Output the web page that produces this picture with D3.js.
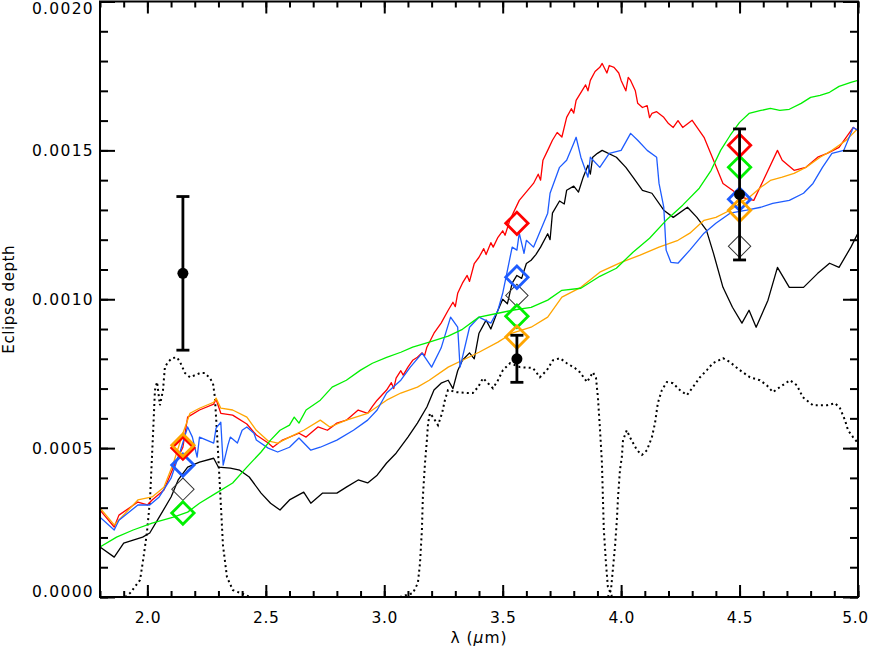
<!DOCTYPE html>
<html lang="en">
<head>
    <meta charset="utf-8">
    <title>Eclipse depth vs wavelength</title>
    <style>
        body, html { margin: 0; background: #fff; }
        svg { display: block; }
        text { font-family: "DejaVu Sans", sans-serif; fill: #000; }
    </style>
    <script src="https://d3js.org/d3.v7.min.js"></script>
</head>
<body>
    <svg width="871" height="652"></svg>

    <script>
        // wavelength in micron, depth in ppm
        const modelBlack = [[1.80,168],[1.86,134],[1.90,181],[1.94,191],[1.98,201],[2.01,215],[2.05,268],[2.10,336],[2.13,393],[2.17,436],[2.22,453],[2.28,466],[2.30,436],[2.35,433],[2.39,426],[2.43,403],[2.48,349],[2.52,315],[2.56,292],[2.60,326],[2.66,352],[2.69,315],[2.74,349],[2.80,349],[2.84,369],[2.89,393],[2.93,383],[2.97,409],[3.01,450],[3.05,483],[3.10,537],[3.14,584],[3.18,638],[3.21,695],[3.24,718],[3.27,728],[3.29,700],[3.31,760],[3.33,795],[3.36,820],[3.38,800],[3.40,886],[3.43,930],[3.45,900],[3.48,963],[3.50,1000],[3.52,985],[3.54,1054],[3.56,1080],[3.58,1070],[3.60,1120],[3.62,1131],[3.64,1150],[3.66,1175],[3.69,1220],[3.70,1200],[3.71,1289],[3.74,1330],[3.76,1320],[3.77,1366],[3.80,1380],[3.82,1360],[3.84,1410],[3.86,1450],[3.87,1420],[3.88,1477],[3.90,1490],[3.92,1500],[3.98,1477],[4.02,1443],[4.05,1410],[4.09,1366],[4.13,1356],[4.18,1299],[4.22,1275],[4.28,1309],[4.32,1275],[4.36,1232],[4.39,1154],[4.43,1040],[4.47,973],[4.51,920],[4.54,963],[4.57,906],[4.62,997],[4.66,1107],[4.71,1040],[4.77,1040],[4.83,1087],[4.88,1121],[4.92,1107],[4.97,1175],[5.00,1222]];

        const modelRed = [[1.80,292],[1.86,235],[1.88,275],[1.96,319],[2.00,309],[2.02,326],[2.07,359],[2.11,436],[2.15,503],[2.17,604],[2.22,628],[2.28,648],[2.29,664],[2.31,617],[2.36,611],[2.42,581],[2.46,544],[2.51,517],[2.53,503],[2.57,527],[2.64,550],[2.67,537],[2.72,571],[2.76,560],[2.80,584],[2.84,594],[2.89,628],[2.93,617],[2.95,640],[2.97,661],[3.01,695],[3.03,720],[3.04,700],[3.05,735],[3.07,760],[3.08,745],[3.10,772],[3.12,795],[3.14,805],[3.16,820],[3.17,810],[3.18,839],[3.21,886],[3.24,920],[3.27,963],[3.29,990],[3.30,975],[3.31,1020],[3.33,1054],[3.35,1080],[3.36,1060],[3.38,1120],[3.40,1141],[3.42,1170],[3.43,1150],[3.45,1190],[3.46,1175],[3.48,1208],[3.50,1230],[3.51,1215],[3.53,1265],[3.57,1332],[3.63,1389],[3.65,1420],[3.66,1400],[3.67,1467],[3.69,1500],[3.71,1534],[3.73,1560],[3.75,1545],[3.77,1611],[3.79,1640],[3.80,1625],[3.81,1668],[3.85,1720],[3.86,1700],[3.87,1735],[3.89,1765],[3.91,1779],[3.92,1792],[3.94,1760],[3.95,1785],[3.97,1779],[3.99,1760],[4.00,1735],[4.02,1700],[4.03,1745],[4.04,1735],[4.06,1700],[4.07,1658],[4.09,1644],[4.11,1650],[4.12,1610],[4.13,1624],[4.15,1630],[4.18,1611],[4.20,1590],[4.22,1577],[4.24,1600],[4.26,1577],[4.30,1601],[4.35,1544],[4.39,1467],[4.43,1389],[4.47,1366],[4.51,1342],[4.56,1332],[4.60,1399],[4.66,1500],[4.68,1467],[4.73,1433],[4.78,1443],[4.83,1477],[4.87,1490],[4.92,1510],[4.98,1577],[5.00,1567]];

        const modelOrange = [[1.80,299],[1.86,242],[1.96,326],[2.02,336],[2.07,369],[2.11,450],[2.15,550],[2.18,617],[2.22,634],[2.28,654],[2.29,668],[2.31,634],[2.36,628],[2.42,604],[2.46,560],[2.51,524],[2.55,517],[2.60,537],[2.66,560],[2.73,594],[2.77,571],[2.84,594],[2.93,617],[3.01,661],[3.07,685],[3.14,705],[3.19,728],[3.27,772],[3.33,795],[3.40,822],[3.48,856],[3.54,886],[3.62,906],[3.69,940],[3.75,1007],[3.83,1040],[3.91,1091],[4.00,1124],[4.08,1148],[4.16,1175],[4.24,1198],[4.29,1222],[4.35,1265],[4.40,1275],[4.46,1299],[4.50,1322],[4.54,1342],[4.59,1376],[4.63,1399],[4.68,1410],[4.73,1423],[4.78,1443],[4.84,1477],[4.89,1500],[4.95,1534],[5.00,1574]];

        const modelBlue = [[1.80,268],[1.86,225],[1.88,258],[1.96,309],[2.01,309],[2.05,336],[2.10,399],[2.14,493],[2.17,571],[2.19,537],[2.21,470],[2.22,537],[2.25,527],[2.28,517],[2.29,567],[2.31,587],[2.32,443],[2.34,510],[2.35,537],[2.38,517],[2.40,560],[2.42,571],[2.45,550],[2.46,527],[2.51,500],[2.55,487],[2.60,503],[2.64,534],[2.69,493],[2.73,503],[2.80,527],[2.87,560],[2.93,594],[2.97,628],[3.01,685],[3.07,728],[3.11,772],[3.16,819],[3.20,772],[3.24,836],[3.28,940],[3.31,906],[3.32,772],[3.33,805],[3.36,906],[3.40,940],[3.45,920],[3.48,963],[3.50,1020],[3.54,1175],[3.56,1165],[3.57,1222],[3.59,1154],[3.60,1198],[3.63,1175],[3.69,1289],[3.70,1356],[3.74,1443],[3.77,1467],[3.80,1524],[3.81,1544],[3.83,1477],[3.86,1410],[3.87,1477],[3.91,1443],[3.95,1490],[4.00,1500],[4.04,1557],[4.07,1534],[4.11,1500],[4.15,1477],[4.16,1389],[4.18,1309],[4.19,1165],[4.21,1124],[4.24,1121],[4.29,1165],[4.35,1222],[4.40,1255],[4.46,1289],[4.53,1299],[4.59,1309],[4.64,1322],[4.71,1332],[4.77,1356],[4.81,1389],[4.85,1443],[4.89,1490],[4.94,1500],[4.98,1577],[5.00,1567]];

        const modelGreen = [[1.80,168],[1.87,201],[1.94,225],[2.02,248],[2.11,268],[2.17,285],[2.22,315],[2.29,349],[2.36,383],[2.42,436],[2.48,487],[2.52,527],[2.56,560],[2.60,577],[2.62,604],[2.64,584],[2.67,628],[2.73,661],[2.78,705],[2.84,728],[2.90,762],[2.95,785],[3.01,805],[3.07,822],[3.12,839],[3.19,856],[3.27,876],[3.33,899],[3.40,940],[3.48,953],[3.54,963],[3.62,973],[3.69,997],[3.75,1030],[3.83,1037],[3.91,1077],[3.98,1104],[4.05,1158],[4.12,1205],[4.19,1265],[4.26,1316],[4.33,1373],[4.38,1433],[4.42,1500],[4.46,1550],[4.50,1594],[4.54,1624],[4.59,1634],[4.63,1641],[4.67,1634],[4.71,1638],[4.76,1658],[4.80,1678],[4.84,1685],[4.88,1695],[4.92,1715],[4.97,1728],[5.00,1735]];

        // filter transmission curves, scaled onto the depth axis
        const filterK = [[1.906,0],[1.927,13],[1.969,57],[1.982,124],[1.998,215],[2.011,326],[2.024,550],[2.032,695],[2.041,722],[2.053,644],[2.066,695],[2.074,772],[2.087,789],[2.104,802],[2.125,805],[2.138,789],[2.159,752],[2.180,738],[2.222,752],[2.243,752],[2.264,735],[2.277,718],[2.285,671],[2.294,550],[2.307,359],[2.319,175],[2.336,67],[2.361,23],[2.404,10],[2.433,0]];
        const filterCh1 = [[3.066,0],[3.121,13],[3.142,47],[3.151,114],[3.159,225],[3.163,336],[3.172,450],[3.180,527],[3.185,584],[3.193,617],[3.206,604],[3.227,577],[3.244,617],[3.256,661],[3.269,695],[3.307,688],[3.349,685],[3.374,685],[3.396,705],[3.417,735],[3.438,718],[3.459,701],[3.480,728],[3.501,762],[3.531,785],[3.573,772],[3.628,769],[3.657,738],[3.687,762],[3.712,795],[3.742,802],[3.771,785],[3.805,769],[3.826,755],[3.856,722],[3.881,755],[3.894,735],[3.902,671],[3.911,560],[3.919,450],[3.923,336],[3.927,225],[3.936,114],[3.944,34],[3.961,3]];
        const filterCh2 = [[3.944,0],[3.957,23],[3.965,91],[3.974,168],[3.982,258],[3.987,336],[3.995,426],[4.003,470],[4.008,527],[4.024,560],[4.037,537],[4.067,493],[4.088,477],[4.109,493],[4.130,537],[4.143,584],[4.155,651],[4.172,695],[4.193,722],[4.219,718],[4.248,695],[4.278,678],[4.303,705],[4.333,738],[4.362,762],[4.387,785],[4.430,802],[4.459,789],[4.501,762],[4.544,738],[4.586,728],[4.615,711],[4.641,688],[4.670,705],[4.713,728],[4.742,711],[4.767,671],[4.810,644],[4.869,644],[4.903,651],[4.924,634],[4.945,594],[4.958,560],[4.979,537],[5.000,517]];

        // band-integrated model points and observations
        const bands = [2.15, 3.56, 4.50];
        const bandBlack = [362, 1013, 1178];
        const bandGreen = [282, 943, 1443];
        const bandBlue = [443, 1074, 1336];
        const bandRed = [500, 1255, 1517];
        const bandOrange = [510, 873, 1299];
        const obsDepth = [1087, 800, 1352];
        const obsErr = [258, 79, 220];

        const xMajor = [2.0, 2.5, 3.0, 3.5, 4.0, 4.5, 5.0];
        const yMajor = [0, 500, 1000, 1500, 2000];

        const width = 871, height = 652;
        const margin = { left: 100, right: 13, top: 1.5, bottom: 55 };
        const svg = d3.select("svg");

        const x = d3.scaleLinear().domain([1.8, 5.0]).range([margin.left, width - margin.right]);
        const y = d3.scaleLinear().domain([0, 2000]).range([height - margin.bottom, margin.top]);

        svg.append("clipPath").attr("id", "plot")
            .append("rect")
            .attr("x", x(1.8)).attr("y", y(2000))
            .attr("width", x(5.0) - x(1.8)).attr("height", y(0) - y(2000));

        const line = d3.line().x(d => x(d[0])).y(d => y(d[1]));
        const plot = svg.append("g").attr("clip-path", "url(#plot)");

        [filterK, filterCh1, filterCh2].forEach(f => {
            plot.append("path").datum(f)
                .attr("d", line)
                .attr("fill", "none")
                .attr("stroke", "#000")
                .attr("stroke-width", 2)
                .attr("stroke-dasharray", "2,3.2");
        });

        const models = [
            { data: modelBlack, color: "#000000" },
            { data: modelRed, color: "#ff0000" },
            { data: modelOrange, color: "#ffa500" },
            { data: modelBlue, color: "#1e5cff" },
            { data: modelGreen, color: "#00f000" }
        ];
        models.forEach(m => {
            plot.append("path").datum(m.data)
                .attr("d", line)
                .attr("fill", "none")
                .attr("stroke", m.color)
                .attr("stroke-width", 1.3)
                .attr("stroke-linejoin", "round");
        });

        // diamonds
        const diamond = d3.symbol().type(d3.symbolSquare).size(250);
        const markerSets = [
            { vals: bandBlack, color: "#333", w: 1 },
            { vals: bandGreen, color: "#00f000", w: 2.8 },
            { vals: bandBlue, color: "#1e5cff", w: 2.8 },
            { vals: bandRed, color: "#ff0000", w: 2.8 },
            { vals: bandOrange, color: "#ffa500", w: 2.8 }
        ];
        markerSets.forEach(s => {
            svg.append("g").selectAll("path")
                .data(s.vals)
                .join("path")
                .attr("d", diamond)
                .attr("transform", (d, i) => `translate(${x(bands[i])},${y(d)}) rotate(45)`)
                .attr("fill", "none")
                .attr("stroke", s.color)
                .attr("stroke-width", s.w);
        });

        // observations with error bars
        const obs = svg.append("g");
        bands.forEach((b, i) => {
            const cx = x(b);
            obs.append("line")
                .attr("x1", cx).attr("x2", cx)
                .attr("y1", y(obsDepth[i] - obsErr[i])).attr("y2", y(obsDepth[i] + obsErr[i]))
                .attr("stroke", "#000").attr("stroke-width", 2.8);
            [obsDepth[i] - obsErr[i], obsDepth[i] + obsErr[i]].forEach(v => {
                obs.append("line")
                    .attr("x1", cx - 6.5).attr("x2", cx + 6.5)
                    .attr("y1", y(v)).attr("y2", y(v))
                    .attr("stroke", "#000").attr("stroke-width", 2.8);
            });
            obs.append("circle")
                .attr("cx", cx).attr("cy", y(obsDepth[i]))
                .attr("r", 5.5).attr("fill", "#000");
        });

        // axes: ticks point inward on all four sides
        const xMinor = d3.range(18, 51).map(v => v / 10);
        const yMinor = d3.range(0, 21).map(v => v * 100);
        const axes = svg.append("g");

        function addAxis(axis, tx, ty) {
            const g = axes.append("g").attr("transform", `translate(${tx},${ty})`).call(axis);
            g.select(".domain").remove();
            g.selectAll("line").attr("stroke-width", 2);
            return g;
        }

        addAxis(d3.axisBottom(x).tickValues(xMinor).tickSize(-6).tickFormat(""), 0, y(0));
        addAxis(d3.axisTop(x).tickValues(xMinor).tickSize(-6).tickFormat(""), 0, y(2000));
        addAxis(d3.axisTop(x).tickValues(xMajor).tickSize(-12).tickFormat(""), 0, y(2000));
        const xg = addAxis(d3.axisBottom(x).tickValues(xMajor).tickSize(-12).tickPadding(15)
            .tickFormat(d3.format(".1f")), 0, y(0));
        xg.selectAll("text").attr("font-size", 15.5).attr("letter-spacing", 0.6)
            .attr("font-family", "DejaVu Sans")
            .attr("dx", d => d === 5 ? -3 : 0);

        addAxis(d3.axisLeft(y).tickValues(yMinor).tickSize(-8).tickFormat(""), x(1.8), 0);
        addAxis(d3.axisRight(y).tickValues(yMinor).tickSize(-8).tickFormat(""), x(5.0), 0);
        addAxis(d3.axisRight(y).tickValues(yMajor).tickSize(-15).tickFormat(""), x(5.0), 0);
        const yg = addAxis(d3.axisLeft(y).tickValues(yMajor).tickSize(-15).tickPadding(6)
            .tickFormat(d => (d / 1e6).toFixed(4)), x(1.8), 0);
        yg.selectAll("text")
            .attr("font-size", 15.5).attr("letter-spacing", 1.3)
            .attr("font-family", "DejaVu Sans")
            .attr("y", d => Math.min(Math.max(y(d), 8.5), 592) - y(d));

        // frame
        svg.append("rect")
            .attr("x", x(1.8)).attr("y", y(2000))
            .attr("width", x(5.0) - x(1.8)).attr("height", y(0) - y(2000))
            .attr("fill", "none").attr("stroke", "#000").attr("stroke-width", 2);

        svg.append("text")
            .attr("transform", `translate(14,${(y(0) + y(2000)) / 2}) rotate(-90)`)
            .attr("text-anchor", "middle")
            .attr("font-size", 15)
            .attr("letter-spacing", 0.6)
            .text("Eclipse depth");

        const xl = svg.append("text")
            .attr("x", (x(1.8) + x(5.0)) / 2)
            .attr("y", 643)
            .attr("text-anchor", "middle")
            .attr("font-size", 15.5)
            .attr("letter-spacing", 1);
        xl.append("tspan").text("λ (");
        xl.append("tspan").attr("font-style", "italic").text("μ");
        xl.append("tspan").text("m)");
    </script>
</body>
</html>
